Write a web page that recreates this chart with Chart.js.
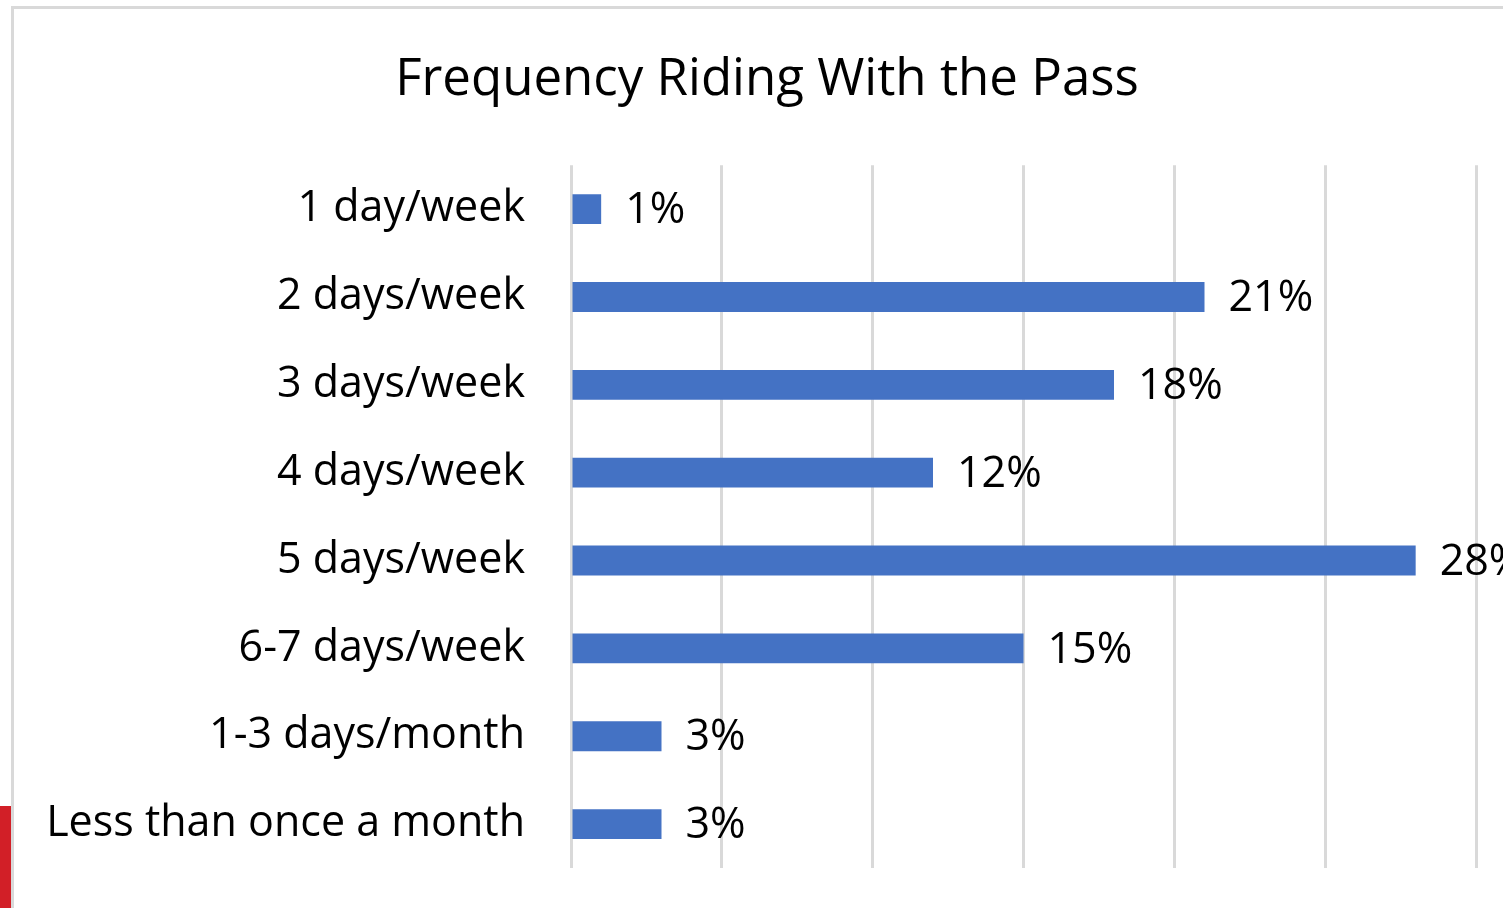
<!DOCTYPE html>
<html>
<head>
<meta charset="utf-8">
<script src="https://cdn.jsdelivr.net/npm/chart.js@4"></script>
<style>
  html, body { margin: 0; padding: 0; background: #fff; overflow: hidden; width: 1503px; height: 908px; }
  #frame { position: absolute; left: 11px; top: 6px; width: 1600px; height: 1000px; border: 3px solid #d9d9d9; box-sizing: border-box; }
  #redmark { position: absolute; left: 0; top: 806px; width: 11px; height: 102px; background: #d21f27; }
  #chart { position: absolute; left: 13px; top: 0; }
</style>
</head>
<body>
<div id="frame"></div>
<div id="redmark"></div>
<canvas id="chart" width="1508" height="908"></canvas>
<script>
const categories = ['1 day/week', '2 days/week', '3 days/week', '4 days/week', '5 days/week', '6-7 days/week', '1-3 days/month', 'Less than once a month'];
const shares = [1, 21, 18, 12, 28, 15, 3, 3];
const axisMax = 30;
const axisStep = 5;

const FONT = '"Open Sans", Lato, sans-serif';

// writes the % value just past the end of each bar
const valueLabels = {
  id: 'valueLabels',
  afterDatasetsDraw(chart) {
    const ctx = chart.ctx;
    const meta = chart.getDatasetMeta(0);
    ctx.save();
    ctx.font = '43px ' + FONT;
    ctx.fillStyle = '#000';
    ctx.textBaseline = 'middle';
    ctx.textAlign = 'left';
    meta.data.forEach((bar, i) => {
      ctx.fillText(shares[i] + '%', bar.x + 24, bar.y + 2);
    });
    ctx.restore();
  }
};

// centre the title over the whole chart box, not just the layout area
const titleSpan = {
  id: 'titleSpan',
  afterLayout(chart) {
    if (chart.titleBlock) {
      chart.titleBlock.left = 0;
      chart.titleBlock.right = chart.width;
    }
  }
};

const ctx = document.getElementById('chart').getContext('2d');
new Chart(ctx, {
  type: 'bar',
  data: {
    labels: categories,
    datasets: [{
      data: shares,
      backgroundColor: '#4472c4',
      categoryPercentage: 1,
      barPercentage: 0.34
    }]
  },
  options: {
    indexAxis: 'y',
    responsive: false,
    animation: false,
    layout: { padding: { left: 0, right: 45, top: 0, bottom: 40 } },
    plugins: {
      legend: { display: false },
      tooltip: { enabled: false },
      title: {
        display: true,
        text: 'Frequency Riding With the Pass',
        color: '#000',
        font: { family: FONT, size: 51, weight: 'normal' },
        padding: { top: 50, bottom: 54 }
      }
    },
    scales: {
      x: {
        min: 0,
        max: axisMax,
        ticks: { display: false, stepSize: axisStep },
        grid: { color: '#d9d9d9', lineWidth: 3, drawTicks: false },
        border: { display: false },
        afterFit(scale) { scale.height = 0; }
      },
      y: {
        grid: { display: false },
        border: { display: false },
        ticks: { color: '#000', padding: 38, font: { family: FONT, size: 43 } },
        afterFit(scale) {
          scale.width = 558;
          scale.paddingTop = 0;
          scale.paddingBottom = 0;
        }
      }
    }
  },
  plugins: [valueLabels, titleSpan]
});
</script>
</body>
</html>
